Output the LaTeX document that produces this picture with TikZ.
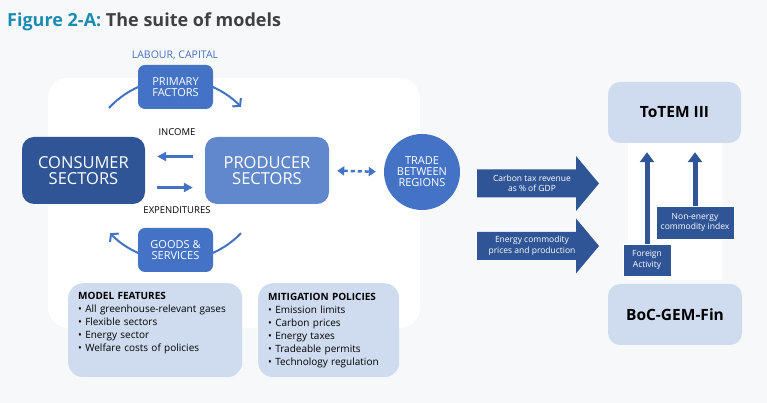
\documentclass[tikz,border=0pt]{standalone}
\usepackage{fontspec}
\setmainfont{Open Sans}
\usepackage{tikz}
\usetikzlibrary{arrows.meta, calc, positioning}
\definecolor{bgGray}{RGB}{247,248,250}
\definecolor{titleTeal}{RGB}{26,140,178}
\definecolor{titleGray}{RGB}{64,64,64}
\definecolor{midBlue}{RGB}{68,114,196}
\definecolor{darkBlue}{RGB}{47,85,151}
\definecolor{prodBlue}{RGB}{98,136,204}
\definecolor{paleBlue}{RGB}{207,220,240}

\begin{document}
\begin{tikzpicture}[x=1pt, y=1pt,
    sectorbox/.style={rounded corners=12pt, text=white, align=center, font=\fontsize{16.5}{16.5}\selectfont, minimum width=123pt, minimum height=67pt, inner sep=0pt},
    flowbox/.style={fill=midBlue, rounded corners=7pt, text=white, align=center, font=\fontsize{11}{11}\selectfont, minimum width=75pt, minimum height=44pt, inner sep=0pt},
    listbox/.style={fill=paleBlue, rounded corners=15pt, anchor=north west, align=left, minimum height=94pt, font=\fontsize{10}{13}\selectfont, inner xsep=10pt, inner ysep=0pt},
    modelbox/.style={fill=paleBlue, rounded corners=12pt, minimum width=134pt, minimum height=61pt, font=\fontsize{15.5}{15.5}\selectfont\bfseries},
    tagbox/.style={fill=darkBlue, draw=white, line width=0.4pt, text=white, align=center, font=\fontsize{8.5}{10.5}\selectfont, inner sep=0pt},
    bandtext/.style={text=white, align=center, font=\fontsize{8.5}{10.5}\selectfont},
    smalltext/.style={font=\fontsize{9.5}{9.5}\selectfont, inner sep=0pt},
    cyclearc/.style={draw=midBlue, line width=2pt},
    cyclebarb/.style={-{Straight Barb[length=5pt, width=12pt]}},
    flow/.style={draw=midBlue, line width=2.5pt, -{Triangle[length=9pt, width=9pt]}, shorten <=12pt, shorten >=12pt},
    tradelink/.style={draw=midBlue, line width=2.5pt, dash pattern=on 4pt off 3pt, {Triangle[length=7pt, width=9pt]}-{Triangle[length=7pt, width=9pt]}, shorten <=8pt, shorten >=8pt},
    uparrow/.style={draw=darkBlue, line width=5pt, -{Triangle[length=10pt, width=14pt]}, shorten >=9pt}
]
        % background and panels
        \fill[bgGray] (0,0) rectangle (767,403);
        \useasboundingbox (0,0) rectangle (767,403);
        \fill[white, rounded corners=20pt] (48,75) rectangle (420,325);
        \fill[white] (628,123) rectangle (722,300);

        % title
        \node[anchor=base west, inner sep=0pt, font=\fontsize{18}{18}\selectfont\bfseries] (title) at (7,376)
            {\textcolor{titleTeal}{Figure 2-A:} \textcolor{titleGray}{The suite of models}};

        % circular flow arcs
        \coordinate (hub) at (175.5,233);
        \draw[cyclearc] ($(hub)+(137:91)$) arc[start angle=137, end angle=110, radius=91];
        \draw[cyclearc, cyclebarb] ($(hub)+(70:91)$) arc[start angle=70, end angle=44, radius=91];
        \draw[cyclearc] ($(hub)+(-44:91)$) arc[start angle=-44, end angle=-70, radius=91];
        \draw[cyclearc, cyclebarb] ($(hub)+(-110:91)$) arc[start angle=-110, end angle=-136, radius=91];

        % sectors
        \node[sectorbox, fill=darkBlue] (consumer) at (83.5,232.5) {CONSUMER\\SECTORS};
        \node[sectorbox, fill=prodBlue, minimum width=124pt] (producer) at (267,232.5) {PRODUCER\\SECTORS};
        \node[flowbox] (primary) at (175.5,316) {PRIMARY\\FACTORS};
        \node[flowbox] (goods) at (175.5,153) {GOODS \&\\SERVICES};
        \node[circle, fill=midBlue, minimum size=76pt, inner sep=0pt, text=white, align=center, font=\fontsize{11}{11}\selectfont] (trade) at (422,231) {TRADE\\BETWEEN\\REGIONS};

        % flow labels
        \node[smalltext, text=midBlue, font=\fontsize{10.5}{10.5}\selectfont] (labour) at (175,348) {LABOUR, CAPITAL};
        \node[smalltext] (income) at (177,270.5) {INCOME};
        \node[smalltext] (spend) at (177,192.5) {EXPENDITURES};

        % flows between sectors
        \draw[flow] ([yshift=14pt]producer.west) -- ([yshift=14pt]consumer.east);
        \draw[flow] ([yshift=-17pt]consumer.east) -- ([yshift=-17pt]producer.west);
        \draw[tradelink] (producer.east) -- (trade.west);

        % feature lists
        \node[listbox, text width=154pt] (features) at (68,120)
            {\textbf{MODEL FEATURES}\\
             • All greenhouse-relevant gases\\
             • Flexible sectors\\
             • Energy sector\\
             • Welfare costs of policies\\
             \strut};
        \node[listbox, text width=121pt] (policies) at (258,120)
            {\textbf{MITIGATION POLICIES}\\
             • Emission limits\\
             • Carbon prices\\
             • Energy taxes\\
             • Tradeable permits\\
             • Technology regulation};

        % block arrows to the models
        \foreach \name/\yc/\labeltext in {carbon/219.5/{Carbon tax revenue\\as \% of GDP}, energy/157/{Energy commodity\\prices and production}} {
            \fill[darkBlue] (477,\yc+14) -- (576,\yc+14) -- (576,\yc+27.5) -- (599,\yc)
                -- (576,\yc-27.5) -- (576,\yc-14) -- (477,\yc-14) -- cycle;
            \node[bandtext] (\name) at (532,\yc) {\labeltext};
        }

        % models
        \node[modelbox, minimum width=133pt] (totem) at (674.5,290.5) {ToTEM III};
        \node[modelbox] (gem) at (675,88.5) {BoC-GEM-Fin};

        % links from BoC-GEM-Fin
        \node[tagbox, minimum width=48pt, minimum height=32pt] (foreign) at (647,143) {Foreign\\Activity};
        \node[tagbox, minimum width=78pt, minimum height=33pt] (nonenergy) at (695,180.5) {Non-energy\\commodity index};
        \draw[uparrow] (foreign.north) -- (foreign.north |- totem.south);
        \draw[uparrow] (nonenergy.north) -- (nonenergy.north |- totem.south);

    \end{tikzpicture}
\end{document}
